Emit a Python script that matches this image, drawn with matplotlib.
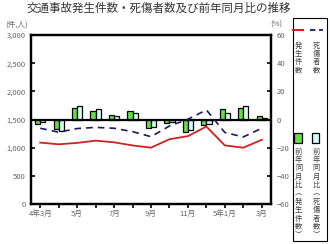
import matplotlib.pyplot as plt
import numpy as np
from matplotlib.patches import Rectangle
from matplotlib.lines import Line2D

plt.rcParams['font.family'] = ['Noto Sans CJK JP', 'DejaVu Sans']

# 月 (令和4年3月〜令和5年3月)
months = ['4年3月', '', '5月', '', '7月', '', '9月', '', '11月', '', '5年1月', '', '3月']
# 発生件数 (件) と 死傷者数 (人)
hassei = [1090, 1060, 1085, 1125, 1095, 1040, 1000, 1150, 1205, 1375, 1040, 1000, 1140]
shisho = [1345, 1275, 1340, 1360, 1345, 1285, 1195, 1385, 1505, 1670, 1270, 1190, 1345]
# 前年同月比 (%)
yoy_hassei = [-3.3, -7.0, 8.0, 6.0, 3.3, 6.0, -6.0, -2.5, -9.0, -4.0, 7.3, 8.0, 2.7]
yoy_shisho = [-1.5, -8.0, 9.5, 7.3, 2.3, 4.3, -5.0, -1.7, -7.3, -3.0, 4.5, 9.5, 0.8]

fig = plt.figure(figsize=(3.3, 2.44), dpi=100)
ax = fig.add_axes([0.0939, 0.1639, 0.7273, 0.6926])
ax2 = ax.twinx()

x = np.arange(len(months))
w = 0.28
ax2.bar(x - w / 2, yoy_hassei, width=w, color='#66dd44', edgecolor='black', linewidth=0.9, zorder=2)
ax2.bar(x + w / 2, yoy_shisho, width=w, color='#d9f9f9', edgecolor='black', linewidth=0.9, zorder=2)
ax2.axhline(0, color='black', lw=1.6, zorder=3)

# 線は棒の上に描く
ax.set_zorder(ax2.get_zorder() + 1)
ax.patch.set_visible(False)
ax.plot(x, hassei, color='#d42020', lw=1.3)
ax.plot(x, shisho, color='#1a1a66', lw=1.2, ls=(0, (4, 3)))

ax.set_xlim(-0.5, 12.5)
ax.set_ylim(0, 3000)
ax2.set_ylim(-60, 60)
ax.set_yticks(np.arange(0, 3001, 500))
ax.set_yticklabels(['0', '500', '1,000', '1,500', '2,000', '2,500', '3,000'])
ax2.set_yticks(np.arange(-60, 61, 20))
ax.set_xticks(x)
ax.set_xticklabels(months)

gray = '#666666'
ax.tick_params(axis='y', direction='in', length=3, width=1.2, labelsize=5.5, labelcolor=gray, pad=4)
ax2.tick_params(axis='y', direction='in', length=3, width=1.2, labelsize=5.5, labelcolor=gray, pad=4)
ax.tick_params(axis='x', direction='out', length=3, width=1.2, labelsize=5.5, labelcolor=gray, pad=1)
for a in (ax, ax2):
    for s in a.spines.values():
        s.set_linewidth(1.6)

fig.text(0.48, 0.965, '交通事故発生件数・死傷者数及び前年同月比の推移', ha='center', va='center',
         fontsize=8.3, color='#333333')
fig.text(0.015, 0.90, '(件,人)', ha='left', va='center', fontsize=5.5, color=gray)
fig.text(0.855, 0.90, '(%)', ha='right', va='center', fontsize=5.5, color=gray)

# 凡例 (縦書き)
fig.add_artist(Rectangle((0.887, 0.012), 0.103, 0.915, transform=fig.transFigure,
                         fill=False, edgecolor='black', lw=0.8))
fig.add_artist(Line2D([0.888, 0.918], [0.877, 0.877], transform=fig.transFigure,
                      color='#d42020', lw=1.5))
fig.add_artist(Line2D([0.940, 0.978], [0.877, 0.877], transform=fig.transFigure,
                      color='#1a1a66', lw=1.3, ls=(0, (3, 2))))
fig.text(0.905, 0.83, '発\n生\n件\n数', ha='center', va='top', fontsize=5.3,
         color='#444444', linespacing=1.05)
fig.text(0.958, 0.83, '死\n傷\n者\n数', ha='center', va='top', fontsize=5.3,
         color='#444444', linespacing=1.05)
fig.add_artist(Rectangle((0.892, 0.414), 0.024, 0.041, transform=fig.transFigure,
                         facecolor='#66dd44', edgecolor='black', lw=0.9))
fig.add_artist(Rectangle((0.944, 0.414), 0.024, 0.041, transform=fig.transFigure,
                         facecolor='#d9f9f9', edgecolor='black', lw=0.9))
fig.text(0.905, 0.395, '前\n年\n同\n月\n比\n︵\n発\n生\n件\n数\n︶', ha='center', va='top',
         fontsize=5.3, color='#444444', linespacing=1.06)
fig.text(0.958, 0.395, '前\n年\n同\n月\n比\n︵\n死\n傷\n者\n数\n︶', ha='center', va='top',
         fontsize=5.3, color='#444444', linespacing=1.06)

fig.savefig('out.png', dpi=100)
